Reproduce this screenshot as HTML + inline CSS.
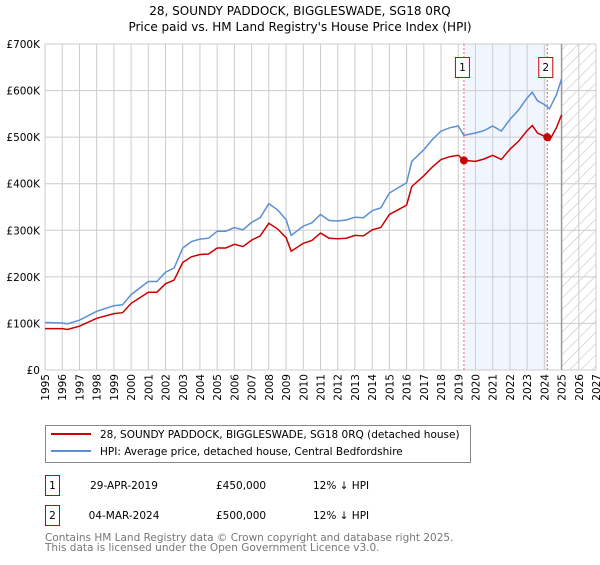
<!DOCTYPE html>
<html><head><meta charset="utf-8"><style>
body{margin:0;background:#fff;}
svg{font-family:"DejaVu Sans","Liberation Sans",sans-serif;}
</style></head><body>
<svg id="c" width="600" height="560" viewBox="0 0 600 560">
<defs>
<pattern id="hatch" width="8" height="8" patternUnits="userSpaceOnUse" patternTransform="rotate(45)"><line x1="0" y1="0" x2="0" y2="8" stroke="#bbb" stroke-width="1"/></pattern>
</defs>
<text x="300" y="15" text-anchor="middle" font-size="12">28, SOUNDY PADDOCK, BIGGLESWADE, SG18 0RQ</text>
<text x="300" y="31" text-anchor="middle" font-size="12">Price paid vs. HM Land Registry's House Price Index (HPI)</text>
<g id="plot"></g>
<g>
<rect x="45.5" y="425.5" width="425" height="37" fill="#fff" stroke="#888"/>
<line x1="51" y1="434" x2="91" y2="434" stroke="#cc0000" stroke-width="2"/>
<text x="100" y="438" font-size="10.5">28, SOUNDY PADDOCK, BIGGLESWADE, SG18 0RQ (detached house)</text>
<line x1="51" y1="451" x2="91" y2="451" stroke="#5b8fd4" stroke-width="2"/>
<text x="100" y="455" font-size="10.5">HPI: Average price, detached house, Central Bedfordshire</text>
</g>
<g font-size="10.5">
<rect x="45.5" y="475.5" width="14" height="20" fill="#fff" stroke="#cc0000"/>
<text x="52.5" y="489" text-anchor="middle">1</text>
<text x="124" y="489" text-anchor="middle">29-APR-2019</text>
<text x="216" y="489">£450,000</text>
<text x="313" y="489">12% ↓ HPI</text>
<rect x="45.5" y="505.5" width="14" height="20" fill="#fff" stroke="#cc0000"/>
<text x="52.5" y="519" text-anchor="middle">2</text>
<text x="124" y="519" text-anchor="middle">04-MAR-2024</text>
<text x="216" y="519">£500,000</text>
<text x="313" y="519">12% ↓ HPI</text>
</g>
<text x="45" y="541" font-size="10.5" fill="#777">Contains HM Land Registry data © Crown copyright and database right 2025.</text>
<text x="45" y="551" font-size="10.5" fill="#777">This data is licensed under the Open Government Licence v3.0.</text>
</svg>
<script>
const yearsHpi=[1995,1996,1996.3,1997,1998,1999,1999.5,2000,2001,2001.5,2002,2002.5,2003,2003.5,2004,2004.5,2005,2005.5,2006,2006.5,2007,2007.5,2008,2008.5,2009,2009.3,2010,2010.5,2011,2011.5,2012,2012.5,2013,2013.5,2014,2014.5,2015,2015.5,2016,2016.3,2017,2017.5,2018,2018.5,2019,2019.33,2020,2020.5,2021,2021.5,2022,2022.5,2023,2023.3,2023.6,2024,2024.3,2024.7,2025];
const hpiValues=[102,101,99,107,126,138,140,162,190,190,210,219,262,276,281,283,298,298,306,301,317,327,357,344,323,289,309,316,334,321,320,322,328,327,342,348,380,391,402,448,473,495,513,520,524,504,509,514,524,513,538,558,584,596,578,570,561,591,625];
const propValues=[89,89,87,94,111,121,123,143,167,167,185,193,231,243,248,249,262,262,270,265,279,288,315,303,284,255,272,278,294,283,282,283,289,288,301,306,334,344,354,394,417,436,452,458,461,450,448,453,461,452,474,491,514,525,509,502,493,520,548];
const sales=[{t:2019.33,v:450},{t:2024.17,v:500}];
const xTicks=[1995,1996,1997,1998,1999,2000,2001,2002,2003,2004,2005,2006,2007,2008,2009,2010,2011,2012,2013,2014,2015,2016,2017,2018,2019,2020,2021,2022,2023,2024,2025,2026,2027];
const yTicks=[0,100,200,300,400,500,600,700];
const yLabels=["£0","£100K","£200K","£300K","£400K","£500K","£600K","£700K"];
const NS="http://www.w3.org/2000/svg";
const X=t=>45+(t-1995)*(596-45)/32;
const Y=v=>370-v*(370-44)/700;
const g=document.getElementById('plot');
function mk(tag,attrs,parent){const e=document.createElementNS(NS,tag);for(const k in attrs)e.setAttribute(k,attrs[k]);(parent||g).appendChild(e);return e;}
let e=mk('rect',{x:X(2019.33),y:44,width:X(2024.17)-X(2019.33),height:326,fill:'#eef3fc',opacity:0.8});


e=mk('rect',{x:X(2025),y:44,width:596-X(2025),height:326,fill:'url(#hatch)'});


xTicks.forEach(t=>{
 let l=mk('line',{x1:X(t),y1:44,x2:X(t),y2:370,stroke:'#ccc','stroke-width':1});
 
 
 let tx=mk('text',{x:0,y:0,'font-size':10.5,'text-anchor':'end',transform:`translate(${X(t)+4},374) rotate(-90)`});
 tx.textContent=t;
 
 
});
yTicks.forEach((v,i)=>{
 let l=mk('line',{x1:45,y1:Y(v),x2:596,y2:Y(v),stroke:'#ccc','stroke-width':1});
 
 
 let tx=mk('text',{x:40,y:Y(v)+4,'font-size':10.5,'text-anchor':'end'});
 tx.textContent=yLabels[i];
 
 
});
e=mk('line',{x1:X(2025),y1:44,x2:X(2025),y2:370,stroke:'#999','stroke-width':1.5});


sales.forEach((s,i)=>{
 let l=mk('line',{x1:X(s.t),y1:44,x2:X(s.t),y2:370,stroke:'#e66','stroke-width':1,'stroke-dasharray':'2,2'});
 
 
 let r=mk('rect',{x:X(s.t)-8.5,y:57.5,width:14,height:20,fill:'#fff',stroke:'#cc0000'});
 
 
 let tx=mk('text',{x:X(s.t)-1.5,y:71,'font-size':10.5,'text-anchor':'middle'});
 tx.textContent=String(i+1);
 
 
});
function line(ts,vs,col,name){
 const p=mk('path',{d:vs.map((v,i)=>(i?'L':'M')+X(ts[i]).toFixed(1)+','+Y(v).toFixed(1)).join(''),fill:'none',stroke:col,'stroke-width':1.5});
 
 
}
line(yearsHpi,hpiValues,'#5b8fd4','hpi-line');
line(yearsHpi,propValues,'#cc0000','property-line');
sales.forEach(s=>{
 const c=mk('circle',{cx:X(s.t),cy:Y(s.v),r:4,fill:'#cc0000'});
 
 
});
</script>
</body></html>
